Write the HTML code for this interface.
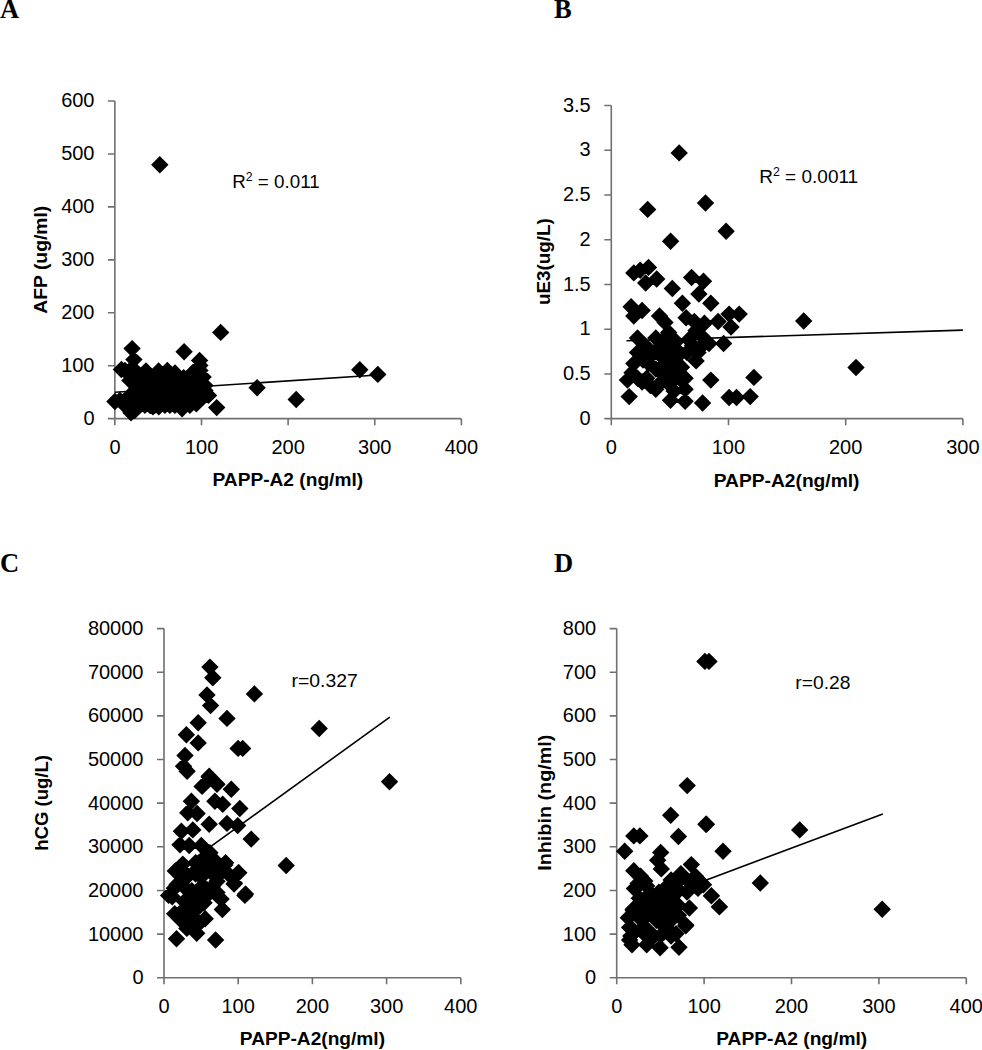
<!DOCTYPE html><html><head><meta charset="utf-8"><style>html,body{margin:0;padding:0;background:#fff;width:982px;height:1050px;overflow:hidden}svg{display:block}text{font-family:"Liberation Sans",sans-serif}</style></head><body>
<svg width="982" height="1050" viewBox="0 0 982 1050">
<rect width="982" height="1050" fill="#fff"/>
<path d="M114.85 101V418.67H461.4M107.85 418.67H114.85M107.85 365.73H114.85M107.85 312.78H114.85M107.85 259.84H114.85M107.85 206.89H114.85M107.85 153.94H114.85M107.85 101.00H114.85M114.85 418.67V425.17M201.49 418.67V425.17M288.12 418.67V425.17M374.76 418.67V425.17M461.40 418.67V425.17" fill="none" stroke="#707070" stroke-width="1.6"/>
<text x="94.5" y="424.9" font-size="20" text-anchor="end">0</text>
<text x="94.5" y="371.9" font-size="20" text-anchor="end">100</text>
<text x="94.5" y="319.0" font-size="20" text-anchor="end">200</text>
<text x="94.5" y="266.1" font-size="20" text-anchor="end">300</text>
<text x="94.5" y="213.1" font-size="20" text-anchor="end">400</text>
<text x="94.5" y="160.1" font-size="20" text-anchor="end">500</text>
<text x="94.5" y="107.2" font-size="20" text-anchor="end">600</text>
<text x="115.0" y="453.7" font-size="20" text-anchor="middle">0</text>
<text x="201.6" y="453.7" font-size="20" text-anchor="middle">100</text>
<text x="288.2" y="453.7" font-size="20" text-anchor="middle">200</text>
<text x="374.8" y="453.7" font-size="20" text-anchor="middle">300</text>
<text x="461.4" y="453.7" font-size="20" text-anchor="middle">400</text>
<path d="M159.8 156.0L168.5 164.7L159.8 173.4L151.1 164.7ZM220.7 323.7L229.4 332.4L220.7 341.1L212.0 332.4ZM359.8 361.1L368.5 369.8L359.8 378.5L351.1 369.8ZM377.8 365.7L386.5 374.4L377.8 383.1L369.1 374.4ZM132.1 339.9L140.8 348.6L132.1 357.3L123.4 348.6ZM133.9 350.9L142.6 359.6L133.9 368.3L125.2 359.6ZM184.1 343.1L192.8 351.8L184.1 360.5L175.4 351.8ZM199.6 351.7L208.3 360.4L199.6 369.1L190.9 360.4ZM216.7 398.9L225.4 407.6L216.7 416.3L208.0 407.6ZM257.1 379.0L265.8 387.7L257.1 396.4L248.4 387.7ZM296.2 390.8L304.9 399.5L296.2 408.2L287.5 399.5ZM121.4 360.8L130.1 369.5L121.4 378.2L112.7 369.5ZM146.0 362.3L154.7 371.0L146.0 379.7L137.3 371.0ZM158.6 362.3L167.3 371.0L158.6 379.7L149.9 371.0ZM167.3 361.8L176.0 370.5L167.3 379.2L158.6 370.5ZM175.0 364.3L183.7 373.0L175.0 381.7L166.3 373.0ZM183.7 368.9L192.4 377.6L183.7 386.3L175.0 377.6ZM199.6 351.7L208.3 360.4L199.6 369.1L190.9 360.4ZM203.1 368.4L211.8 377.1L203.1 385.8L194.4 377.1ZM208.5 386.7L217.2 395.4L208.5 404.1L199.8 395.4ZM196.4 395.1L205.1 403.8L196.4 412.5L187.7 403.8ZM182.1 400.0L190.8 408.7L182.1 417.4L173.4 408.7ZM158.8 398.1L167.5 406.8L158.8 415.5L150.1 406.8ZM153.0 398.1L161.7 406.8L153.0 415.5L144.3 406.8ZM131.0 404.0L139.7 412.7L131.0 421.4L122.3 412.7ZM114.9 392.8L123.6 401.5L114.9 410.2L106.2 401.5ZM135.0 382.3L143.7 391.0L135.0 399.7L126.3 391.0ZM119.9 391.7L128.6 400.4L119.9 409.1L111.2 400.4ZM124.9 361.7L133.6 370.4L124.9 379.1L116.2 370.4ZM124.9 391.7L133.6 400.4L124.9 409.1L116.2 400.4ZM124.9 396.7L133.6 405.4L124.9 414.1L116.2 405.4ZM129.9 361.7L138.6 370.4L129.9 379.1L121.2 370.4ZM129.9 366.7L138.6 375.4L129.9 384.1L121.2 375.4ZM129.9 371.7L138.6 380.4L129.9 389.1L121.2 380.4ZM129.9 386.7L138.6 395.4L129.9 404.1L121.2 395.4ZM129.9 391.7L138.6 400.4L129.9 409.1L121.2 400.4ZM129.9 396.7L138.6 405.4L129.9 414.1L121.2 405.4ZM129.9 401.7L138.6 410.4L129.9 419.1L121.2 410.4ZM134.9 361.7L143.6 370.4L134.9 379.1L126.2 370.4ZM134.9 366.7L143.6 375.4L134.9 384.1L126.2 375.4ZM134.9 371.7L143.6 380.4L134.9 389.1L126.2 380.4ZM134.9 376.7L143.6 385.4L134.9 394.1L126.2 385.4ZM134.9 381.7L143.6 390.4L134.9 399.1L126.2 390.4ZM134.9 386.7L143.6 395.4L134.9 404.1L126.2 395.4ZM134.9 391.7L143.6 400.4L134.9 409.1L126.2 400.4ZM134.9 396.7L143.6 405.4L134.9 414.1L126.2 405.4ZM134.9 401.7L143.6 410.4L134.9 419.1L126.2 410.4ZM139.9 366.7L148.6 375.4L139.9 384.1L131.2 375.4ZM139.9 371.7L148.6 380.4L139.9 389.1L131.2 380.4ZM139.9 376.7L148.6 385.4L139.9 394.1L131.2 385.4ZM139.9 381.7L148.6 390.4L139.9 399.1L131.2 390.4ZM139.9 386.7L148.6 395.4L139.9 404.1L131.2 395.4ZM139.9 391.7L148.6 400.4L139.9 409.1L131.2 400.4ZM139.9 396.7L148.6 405.4L139.9 414.1L131.2 405.4ZM144.9 366.7L153.6 375.4L144.9 384.1L136.2 375.4ZM144.9 371.7L153.6 380.4L144.9 389.1L136.2 380.4ZM144.9 376.7L153.6 385.4L144.9 394.1L136.2 385.4ZM144.9 381.7L153.6 390.4L144.9 399.1L136.2 390.4ZM144.9 386.7L153.6 395.4L144.9 404.1L136.2 395.4ZM144.9 391.7L153.6 400.4L144.9 409.1L136.2 400.4ZM144.9 396.7L153.6 405.4L144.9 414.1L136.2 405.4ZM149.9 366.7L158.6 375.4L149.9 384.1L141.2 375.4ZM149.9 371.7L158.6 380.4L149.9 389.1L141.2 380.4ZM149.9 376.7L158.6 385.4L149.9 394.1L141.2 385.4ZM149.9 381.7L158.6 390.4L149.9 399.1L141.2 390.4ZM149.9 386.7L158.6 395.4L149.9 404.1L141.2 395.4ZM149.9 391.7L158.6 400.4L149.9 409.1L141.2 400.4ZM149.9 396.7L158.6 405.4L149.9 414.1L141.2 405.4ZM154.9 366.7L163.6 375.4L154.9 384.1L146.2 375.4ZM154.9 371.7L163.6 380.4L154.9 389.1L146.2 380.4ZM154.9 376.7L163.6 385.4L154.9 394.1L146.2 385.4ZM154.9 381.7L163.6 390.4L154.9 399.1L146.2 390.4ZM154.9 386.7L163.6 395.4L154.9 404.1L146.2 395.4ZM154.9 391.7L163.6 400.4L154.9 409.1L146.2 400.4ZM154.9 396.7L163.6 405.4L154.9 414.1L146.2 405.4ZM159.9 366.7L168.6 375.4L159.9 384.1L151.2 375.4ZM159.9 371.7L168.6 380.4L159.9 389.1L151.2 380.4ZM159.9 376.7L168.6 385.4L159.9 394.1L151.2 385.4ZM159.9 381.7L168.6 390.4L159.9 399.1L151.2 390.4ZM159.9 386.7L168.6 395.4L159.9 404.1L151.2 395.4ZM159.9 391.7L168.6 400.4L159.9 409.1L151.2 400.4ZM159.9 396.7L168.6 405.4L159.9 414.1L151.2 405.4ZM164.9 366.7L173.6 375.4L164.9 384.1L156.2 375.4ZM164.9 371.7L173.6 380.4L164.9 389.1L156.2 380.4ZM164.9 376.7L173.6 385.4L164.9 394.1L156.2 385.4ZM164.9 381.7L173.6 390.4L164.9 399.1L156.2 390.4ZM164.9 386.7L173.6 395.4L164.9 404.1L156.2 395.4ZM164.9 391.7L173.6 400.4L164.9 409.1L156.2 400.4ZM164.9 396.7L173.6 405.4L164.9 414.1L156.2 405.4ZM169.9 366.7L178.6 375.4L169.9 384.1L161.2 375.4ZM169.9 371.7L178.6 380.4L169.9 389.1L161.2 380.4ZM169.9 376.7L178.6 385.4L169.9 394.1L161.2 385.4ZM169.9 381.7L178.6 390.4L169.9 399.1L161.2 390.4ZM169.9 386.7L178.6 395.4L169.9 404.1L161.2 395.4ZM169.9 391.7L178.6 400.4L169.9 409.1L161.2 400.4ZM169.9 396.7L178.6 405.4L169.9 414.1L161.2 405.4ZM174.9 366.7L183.6 375.4L174.9 384.1L166.2 375.4ZM174.9 371.7L183.6 380.4L174.9 389.1L166.2 380.4ZM174.9 376.7L183.6 385.4L174.9 394.1L166.2 385.4ZM174.9 381.7L183.6 390.4L174.9 399.1L166.2 390.4ZM174.9 386.7L183.6 395.4L174.9 404.1L166.2 395.4ZM174.9 391.7L183.6 400.4L174.9 409.1L166.2 400.4ZM174.9 396.7L183.6 405.4L174.9 414.1L166.2 405.4ZM179.9 371.7L188.6 380.4L179.9 389.1L171.2 380.4ZM179.9 376.7L188.6 385.4L179.9 394.1L171.2 385.4ZM179.9 381.7L188.6 390.4L179.9 399.1L171.2 390.4ZM179.9 386.7L188.6 395.4L179.9 404.1L171.2 395.4ZM179.9 391.7L188.6 400.4L179.9 409.1L171.2 400.4ZM179.9 396.7L188.6 405.4L179.9 414.1L171.2 405.4ZM184.9 371.7L193.6 380.4L184.9 389.1L176.2 380.4ZM184.9 376.7L193.6 385.4L184.9 394.1L176.2 385.4ZM184.9 381.7L193.6 390.4L184.9 399.1L176.2 390.4ZM184.9 386.7L193.6 395.4L184.9 404.1L176.2 395.4ZM184.9 391.7L193.6 400.4L184.9 409.1L176.2 400.4ZM184.9 396.7L193.6 405.4L184.9 414.1L176.2 405.4ZM189.9 366.7L198.6 375.4L189.9 384.1L181.2 375.4ZM189.9 371.7L198.6 380.4L189.9 389.1L181.2 380.4ZM189.9 376.7L198.6 385.4L189.9 394.1L181.2 385.4ZM189.9 381.7L198.6 390.4L189.9 399.1L181.2 390.4ZM189.9 386.7L198.6 395.4L189.9 404.1L181.2 395.4ZM189.9 391.7L198.6 400.4L189.9 409.1L181.2 400.4ZM189.9 396.7L198.6 405.4L189.9 414.1L181.2 405.4ZM194.9 361.7L203.6 370.4L194.9 379.1L186.2 370.4ZM194.9 366.7L203.6 375.4L194.9 384.1L186.2 375.4ZM194.9 371.7L203.6 380.4L194.9 389.1L186.2 380.4ZM194.9 376.7L203.6 385.4L194.9 394.1L186.2 385.4ZM194.9 381.7L203.6 390.4L194.9 399.1L186.2 390.4ZM194.9 386.7L203.6 395.4L194.9 404.1L186.2 395.4ZM194.9 391.7L203.6 400.4L194.9 409.1L186.2 400.4ZM199.9 356.7L208.6 365.4L199.9 374.1L191.2 365.4ZM199.9 361.7L208.6 370.4L199.9 379.1L191.2 370.4ZM199.9 366.7L208.6 375.4L199.9 384.1L191.2 375.4ZM199.9 371.7L208.6 380.4L199.9 389.1L191.2 380.4ZM199.9 376.7L208.6 385.4L199.9 394.1L191.2 385.4ZM199.9 381.7L208.6 390.4L199.9 399.1L191.2 390.4ZM199.9 386.7L208.6 395.4L199.9 404.1L191.2 395.4ZM199.9 391.7L208.6 400.4L199.9 409.1L191.2 400.4ZM204.9 376.7L213.6 385.4L204.9 394.1L196.2 385.4ZM204.9 381.7L213.6 390.4L204.9 399.1L196.2 390.4ZM204.9 386.7L213.6 395.4L204.9 404.1L196.2 395.4Z" fill="#000"/>
<path d="M115 392.2L377.8 375.0" stroke="#000" stroke-width="1.6"/>
<path d="M611.3 105.5V418.67H962.9M604.3 418.67H611.3M604.3 373.93H611.3M604.3 329.19H611.3M604.3 284.45H611.3M604.3 239.72H611.3M604.3 194.98H611.3M604.3 150.24H611.3M604.3 105.50H611.3M611.30 418.67V425.17M728.50 418.67V425.17M845.70 418.67V425.17M962.90 418.67V425.17" fill="none" stroke="#707070" stroke-width="1.6"/>
<text x="590.7" y="424.9" font-size="20" text-anchor="end">0</text>
<text x="590.7" y="380.2" font-size="20" text-anchor="end">0.5</text>
<text x="590.7" y="335.4" font-size="20" text-anchor="end">1</text>
<text x="590.7" y="290.7" font-size="20" text-anchor="end">1.5</text>
<text x="590.7" y="245.9" font-size="20" text-anchor="end">2</text>
<text x="590.7" y="201.2" font-size="20" text-anchor="end">2.5</text>
<text x="590.7" y="156.4" font-size="20" text-anchor="end">3</text>
<text x="590.7" y="111.7" font-size="20" text-anchor="end">3.5</text>
<text x="611.2" y="453.7" font-size="20" text-anchor="middle">0</text>
<text x="728.4" y="453.7" font-size="20" text-anchor="middle">100</text>
<text x="845.7" y="453.7" font-size="20" text-anchor="middle">200</text>
<text x="962.9" y="453.7" font-size="20" text-anchor="middle">300</text>
<path d="M803.7 312.3L812.4 321.0L803.7 329.7L795.0 321.0ZM856.0 358.8L864.7 367.5L856.0 376.2L847.3 367.5ZM679.2 144.2L687.9 152.9L679.2 161.6L670.5 152.9ZM647.7 200.7L656.4 209.4L647.7 218.1L639.0 209.4ZM705.5 194.3L714.2 203.0L705.5 211.7L696.8 203.0ZM726.1 222.6L734.8 231.3L726.1 240.0L717.4 231.3ZM670.6 232.5L679.3 241.2L670.6 249.9L661.9 241.2ZM633.8 264.2L642.5 272.9L633.8 281.6L625.1 272.9ZM640.2 261.5L648.9 270.2L640.2 278.9L631.5 270.2ZM648.5 258.7L657.2 267.4L648.5 276.1L639.8 267.4ZM645.7 274.3L654.4 283.0L645.7 291.7L637.0 283.0ZM656.7 270.3L665.4 279.0L656.7 287.7L648.0 279.0ZM672.3 279.8L681.0 288.5L672.3 297.2L663.6 288.5ZM691.6 268.8L700.3 277.5L691.6 286.2L682.9 277.5ZM703.5 272.5L712.2 281.2L703.5 289.9L694.8 281.2ZM698.9 285.3L707.6 294.0L698.9 302.7L690.2 294.0ZM710.8 294.5L719.5 303.2L710.8 311.9L702.1 303.2ZM682.4 294.5L691.1 303.2L682.4 311.9L673.7 303.2ZM631.1 298.1L639.8 306.8L631.1 315.5L622.4 306.8ZM642.1 301.8L650.8 310.5L642.1 319.2L633.4 310.5ZM633.8 307.3L642.5 316.0L633.8 324.7L625.1 316.0ZM659.5 307.3L668.2 316.0L659.5 324.7L650.8 316.0ZM665.0 313.7L673.7 322.4L665.0 331.1L656.3 322.4ZM686.1 309.1L694.8 317.8L686.1 326.5L677.4 317.8ZM694.3 312.8L703.0 321.5L694.3 330.2L685.6 321.5ZM704.4 314.6L713.1 323.3L704.4 332.0L695.7 323.3ZM718.1 312.8L726.8 321.5L718.1 330.2L709.4 321.5ZM729.1 305.4L737.8 314.1L729.1 322.8L720.4 314.1ZM739.2 305.4L747.9 314.1L739.2 322.8L730.5 314.1ZM731.0 318.3L739.7 327.0L731.0 335.7L722.3 327.0ZM637.5 329.3L646.2 338.0L637.5 346.7L628.8 338.0ZM655.8 329.3L664.5 338.0L655.8 346.7L647.1 338.0ZM668.7 323.8L677.4 332.5L668.7 341.2L660.0 332.5ZM688.8 331.1L697.5 339.8L688.8 348.5L680.1 339.8ZM709.0 334.8L717.7 343.5L709.0 352.2L700.3 343.5ZM723.6 334.8L732.3 343.5L723.6 352.2L714.9 343.5ZM637.5 343.9L646.2 352.6L637.5 361.3L628.8 352.6ZM654.0 343.9L662.7 352.6L654.0 361.3L645.3 352.6ZM670.5 340.3L679.2 349.0L670.5 357.7L661.8 349.0ZM687.0 343.9L695.7 352.6L687.0 361.3L678.3 352.6ZM696.1 352.2L704.8 360.9L696.1 369.6L687.4 360.9ZM633.8 354.9L642.5 363.6L633.8 372.3L625.1 363.6ZM648.5 354.9L657.2 363.6L648.5 372.3L639.8 363.6ZM665.0 354.9L673.7 363.6L665.0 372.3L656.3 363.6ZM681.5 358.6L690.2 367.3L681.5 376.0L672.8 367.3ZM627.4 371.4L636.1 380.1L627.4 388.8L618.7 380.1ZM632.0 364.1L640.7 372.8L632.0 381.5L623.3 372.8ZM642.1 373.3L650.8 382.0L642.1 390.7L633.4 382.0ZM655.8 380.6L664.5 389.3L655.8 398.0L647.1 389.3ZM663.2 365.9L671.9 374.6L663.2 383.3L654.5 374.6ZM668.7 375.1L677.4 383.8L668.7 392.5L660.0 383.8ZM685.1 369.6L693.8 378.3L685.1 387.0L676.4 378.3ZM685.1 380.6L693.8 389.3L685.1 398.0L676.4 389.3ZM710.8 371.4L719.5 380.1L710.8 388.8L702.1 380.1ZM753.9 368.7L762.6 377.4L753.9 386.1L745.2 377.4ZM629.2 387.9L637.9 396.6L629.2 405.3L620.5 396.6ZM670.5 391.6L679.2 400.3L670.5 409.0L661.8 400.3ZM685.1 392.5L693.8 401.2L685.1 409.9L676.4 401.2ZM702.6 394.3L711.3 403.0L702.6 411.7L693.9 403.0ZM729.1 388.8L737.8 397.5L729.1 406.2L720.4 397.5ZM736.5 388.8L745.2 397.5L736.5 406.2L727.8 397.5ZM750.2 387.9L758.9 396.6L750.2 405.3L741.5 396.6ZM646.7 369.6L655.4 378.3L646.7 387.0L638.0 378.3ZM644.8 336.6L653.5 345.3L644.8 354.0L636.1 345.3ZM676.0 349.4L684.7 358.1L676.0 366.8L667.3 358.1ZM663.2 336.6L671.9 345.3L663.2 354.0L654.5 345.3ZM676.0 332.9L684.7 341.6L676.0 350.3L667.3 341.6ZM692.5 336.6L701.2 345.3L692.5 354.0L683.8 345.3ZM701.6 327.4L710.3 336.1L701.6 344.8L692.9 336.1ZM696.1 321.9L704.8 330.6L696.1 339.3L687.4 330.6ZM650.3 343.9L659.0 352.6L650.3 361.3L641.6 352.6ZM661.3 347.6L670.0 356.3L661.3 365.0L652.6 356.3ZM672.3 351.3L681.0 360.0L672.3 368.7L663.6 360.0ZM643.0 351.3L651.7 360.0L643.0 368.7L634.3 360.0ZM655.8 360.4L664.5 369.1L655.8 377.8L647.1 369.1ZM670.5 362.3L679.2 371.0L670.5 379.7L661.8 371.0ZM674.1 382.4L682.8 391.1L674.1 399.8L665.4 391.1ZM650.3 376.9L659.0 385.6L650.3 394.3L641.6 385.6ZM637.5 369.6L646.2 378.3L637.5 387.0L628.8 378.3ZM661.3 373.3L670.0 382.0L661.3 390.7L652.6 382.0ZM679.6 369.6L688.3 378.3L679.6 387.0L670.9 378.3ZM679.6 343.9L688.3 352.6L679.6 361.3L670.9 352.6ZM698.0 343.9L706.7 352.6L698.0 361.3L689.3 352.6ZM665.0 329.3L673.7 338.0L665.0 346.7L656.3 338.0ZM701.6 337.5L710.3 346.2L701.6 354.9L692.9 346.2Z" fill="#000"/>
<path d="M626.5 340.7L962.9 330.1" stroke="#000" stroke-width="1.6"/>
<path d="M164.0 628.6V977.75H460.8M157.0 977.75H164.0M157.0 934.11H164.0M157.0 890.46H164.0M157.0 846.82H164.0M157.0 803.17H164.0M157.0 759.53H164.0M157.0 715.89H164.0M157.0 672.24H164.0M157.0 628.60H164.0M164.00 977.75V984.25M238.20 977.75V984.25M312.40 977.75V984.25M386.60 977.75V984.25M460.80 977.75V984.25" fill="none" stroke="#707070" stroke-width="1.6"/>
<text x="143.5" y="984.2" font-size="20" text-anchor="end">0</text>
<text x="143.5" y="940.5" font-size="20" text-anchor="end">10000</text>
<text x="143.5" y="896.9" font-size="20" text-anchor="end">20000</text>
<text x="143.5" y="853.2" font-size="20" text-anchor="end">30000</text>
<text x="143.5" y="809.5" font-size="20" text-anchor="end">40000</text>
<text x="143.5" y="765.8" font-size="20" text-anchor="end">50000</text>
<text x="143.5" y="722.2" font-size="20" text-anchor="end">60000</text>
<text x="143.5" y="678.5" font-size="20" text-anchor="end">70000</text>
<text x="143.5" y="634.8" font-size="20" text-anchor="end">80000</text>
<text x="164.0" y="1013.0" font-size="20" text-anchor="middle">0</text>
<text x="238.2" y="1013.0" font-size="20" text-anchor="middle">100</text>
<text x="312.4" y="1013.0" font-size="20" text-anchor="middle">200</text>
<text x="386.6" y="1013.0" font-size="20" text-anchor="middle">300</text>
<text x="460.8" y="1013.0" font-size="20" text-anchor="middle">400</text>
<path d="M319.2 719.8L327.9 728.5L319.2 737.2L310.5 728.5ZM389.5 773.0L398.2 781.7L389.5 790.4L380.8 781.7ZM209.9 658.4L218.6 667.1L209.9 675.8L201.2 667.1ZM212.8 669.1L221.5 677.8L212.8 686.5L204.1 677.8ZM207.0 686.2L215.7 694.9L207.0 703.6L198.3 694.9ZM210.6 696.9L219.3 705.6L210.6 714.3L201.9 705.6ZM254.4 685.2L263.1 693.9L254.4 702.6L245.7 693.9ZM227.0 709.7L235.7 718.4L227.0 727.1L218.3 718.4ZM198.2 714.0L206.9 722.7L198.2 731.4L189.5 722.7ZM186.4 726.1L195.1 734.8L186.4 743.5L177.7 734.8ZM198.2 734.2L206.9 742.9L198.2 751.6L189.5 742.9ZM238.1 739.7L246.8 748.4L238.1 757.1L229.4 748.4ZM242.7 739.7L251.4 748.4L242.7 757.1L234.0 748.4ZM185.0 746.8L193.7 755.5L185.0 764.2L176.3 755.5ZM183.5 757.5L192.2 766.2L183.5 774.9L174.8 766.2ZM187.1 762.5L195.8 771.2L187.1 779.9L178.4 771.2ZM209.2 767.5L217.9 776.2L209.2 784.9L200.5 776.2ZM209.2 768.4L217.9 777.1L209.2 785.8L200.5 777.1ZM202.1 777.7L210.8 786.4L202.1 795.1L193.4 786.4ZM217.0 775.5L225.7 784.2L217.0 792.9L208.3 784.2ZM231.3 780.5L240.0 789.2L231.3 797.9L222.6 789.2ZM191.4 792.6L200.1 801.3L191.4 810.0L182.7 801.3ZM214.9 792.6L223.6 801.3L214.9 810.0L206.2 801.3ZM222.7 795.5L231.4 804.2L222.7 812.9L214.0 804.2ZM239.8 799.8L248.5 808.5L239.8 817.2L231.1 808.5ZM187.8 804.1L196.5 812.8L187.8 821.5L179.1 812.8ZM197.1 804.8L205.8 813.5L197.1 822.2L188.4 813.5ZM209.2 815.5L217.9 824.2L209.2 832.9L200.5 824.2ZM227.0 814.7L235.7 823.4L227.0 832.1L218.3 823.4ZM237.7 816.9L246.4 825.6L237.7 834.3L229.0 825.6ZM251.2 830.4L259.9 839.1L251.2 847.8L242.5 839.1ZM181.4 822.6L190.1 831.3L181.4 840.0L172.7 831.3ZM192.8 821.2L201.5 829.9L192.8 838.6L184.1 829.9ZM180.0 836.1L188.7 844.8L180.0 853.5L171.3 844.8ZM189.2 836.8L197.9 845.5L189.2 854.2L180.5 845.5ZM201.3 836.8L210.0 845.5L201.3 854.2L192.6 845.5ZM209.9 844.0L218.6 852.7L209.9 861.4L201.2 852.7ZM286.2 856.8L294.9 865.5L286.2 874.2L277.5 865.5ZM178.5 861.1L187.2 869.8L178.5 878.5L169.8 869.8ZM182.8 855.4L191.5 864.1L182.8 872.8L174.1 864.1ZM195.6 854.0L204.3 862.7L195.6 871.4L186.9 862.7ZM225.6 854.0L234.3 862.7L225.6 871.4L216.9 862.7ZM211.3 863.9L220.0 872.6L211.3 881.3L202.6 872.6ZM238.4 863.9L247.1 872.6L238.4 881.3L229.7 872.6ZM234.1 875.3L242.8 884.0L234.1 892.7L225.4 884.0ZM245.5 885.3L254.2 894.0L245.5 902.7L236.8 894.0ZM185.7 869.6L194.4 878.3L185.7 887.0L177.0 878.3ZM201.3 868.2L210.0 876.9L201.3 885.6L192.6 876.9ZM217.0 872.5L225.7 881.2L217.0 889.9L208.3 881.2ZM174.3 879.6L183.0 888.3L174.3 897.0L165.6 888.3ZM168.6 886.7L177.3 895.4L168.6 904.1L159.9 895.4ZM188.5 882.5L197.2 891.2L188.5 899.9L179.8 891.2ZM217.0 883.9L225.7 892.6L217.0 901.3L208.3 892.6ZM202.8 851.1L211.5 859.8L202.8 868.5L194.1 859.8ZM217.0 854.0L225.7 862.7L217.0 871.4L208.3 862.7ZM202.8 876.8L211.5 885.5L202.8 894.2L194.1 885.5ZM195.6 883.9L204.3 892.6L195.6 901.3L186.9 892.6ZM207.0 861.1L215.7 869.8L207.0 878.5L198.3 869.8ZM219.9 865.4L228.6 874.1L219.9 882.8L211.2 874.1ZM228.4 865.4L237.1 874.1L228.4 882.8L219.7 874.1ZM181.4 872.5L190.1 881.2L181.4 889.9L172.7 881.2ZM195.6 865.4L204.3 874.1L195.6 882.8L186.9 874.1ZM178.5 861.1L187.2 869.8L178.5 878.5L169.8 869.8ZM205.6 888.2L214.3 896.9L205.6 905.6L196.9 896.9ZM176.5 930.1L185.2 938.8L176.5 947.5L167.8 938.8ZM215.6 931.3L224.3 940.0L215.6 948.7L206.9 940.0ZM196.7 924.6L205.4 933.3L196.7 942.0L188.0 933.3ZM186.9 919.7L195.6 928.4L186.9 937.1L178.2 928.4ZM179.6 910.0L188.3 918.7L179.6 927.4L170.9 918.7ZM205.2 910.0L213.9 918.7L205.2 927.4L196.5 918.7ZM199.1 914.8L207.8 923.5L199.1 932.2L190.4 923.5ZM222.3 900.8L231.0 909.5L222.3 918.2L213.6 909.5ZM244.9 886.7L253.6 895.4L244.9 904.1L236.2 895.4ZM234.5 874.5L243.2 883.2L234.5 891.9L225.8 883.2ZM238.8 864.1L247.5 872.8L238.8 881.5L230.1 872.8ZM224.8 856.2L233.5 864.9L224.8 873.6L216.1 864.9ZM211.3 863.5L220.0 872.2L211.3 880.9L202.6 872.2ZM221.1 890.4L229.8 899.1L221.1 907.8L212.4 899.1ZM172.2 888.0L180.9 896.7L172.2 905.4L163.5 896.7ZM175.3 862.3L184.0 871.0L175.3 879.7L166.6 871.0ZM177.1 875.7L185.8 884.4L177.1 893.1L168.4 884.4ZM191.8 881.9L200.5 890.6L191.8 899.3L183.1 890.6ZM204.0 894.1L212.7 902.8L204.0 911.5L195.3 902.8ZM186.9 866.0L195.6 874.7L186.9 883.4L178.2 874.7ZM196.7 861.1L205.4 869.8L196.7 878.5L188.0 869.8ZM196.7 900.2L205.4 908.9L196.7 917.6L188.0 908.9ZM174.7 905.1L183.4 913.8L174.7 922.5L166.0 913.8ZM190.6 910.0L199.3 918.7L190.6 927.4L181.9 918.7ZM212.5 878.2L221.2 886.9L212.5 895.6L203.8 886.9ZM184.4 892.8L193.1 901.5L184.4 910.2L175.7 901.5ZM182.0 902.6L190.7 911.3L182.0 920.0L173.3 911.3ZM191.8 891.6L200.5 900.3L191.8 909.0L183.1 900.3ZM189.3 900.2L198.0 908.9L189.3 917.6L180.6 908.9ZM216.2 885.5L224.9 894.2L216.2 902.9L207.5 894.2Z" fill="#000"/>
<path d="M173.6 873.4L389.8 717.1" stroke="#000" stroke-width="1.6"/>
<path d="M616.7 628.6V977.75H966.3M609.7 977.75H616.7M609.7 934.11H616.7M609.7 890.46H616.7M609.7 846.82H616.7M609.7 803.17H616.7M609.7 759.53H616.7M609.7 715.89H616.7M609.7 672.24H616.7M609.7 628.60H616.7M616.70 977.75V984.25M704.10 977.75V984.25M791.50 977.75V984.25M878.90 977.75V984.25M966.30 977.75V984.25" fill="none" stroke="#707070" stroke-width="1.6"/>
<text x="596.2" y="984.2" font-size="20" text-anchor="end">0</text>
<text x="596.2" y="940.5" font-size="20" text-anchor="end">100</text>
<text x="596.2" y="896.9" font-size="20" text-anchor="end">200</text>
<text x="596.2" y="853.2" font-size="20" text-anchor="end">300</text>
<text x="596.2" y="809.5" font-size="20" text-anchor="end">400</text>
<text x="596.2" y="765.8" font-size="20" text-anchor="end">500</text>
<text x="596.2" y="722.2" font-size="20" text-anchor="end">600</text>
<text x="596.2" y="678.5" font-size="20" text-anchor="end">700</text>
<text x="596.2" y="634.8" font-size="20" text-anchor="end">800</text>
<text x="616.7" y="1013.0" font-size="20" text-anchor="middle">0</text>
<text x="704.1" y="1013.0" font-size="20" text-anchor="middle">100</text>
<text x="791.5" y="1013.0" font-size="20" text-anchor="middle">200</text>
<text x="878.9" y="1013.0" font-size="20" text-anchor="middle">300</text>
<text x="966.3" y="1013.0" font-size="20" text-anchor="middle">400</text>
<path d="M704.9 652.7L713.6 661.4L704.9 670.1L696.2 661.4ZM709.0 652.7L717.7 661.4L709.0 670.1L700.3 661.4ZM687.2 776.9L695.9 785.6L687.2 794.3L678.5 785.6ZM670.7 806.5L679.4 815.2L670.7 823.9L662.0 815.2ZM705.9 815.6L714.6 824.3L705.9 833.0L697.2 824.3ZM799.7 821.2L808.4 829.9L799.7 838.6L791.0 829.9ZM760.3 874.3L769.0 883.0L760.3 891.7L751.6 883.0ZM882.2 900.5L890.9 909.2L882.2 917.9L873.5 909.2ZM633.8 827.2L642.5 835.9L633.8 844.6L625.1 835.9ZM639.9 827.2L648.6 835.9L639.9 844.6L631.2 835.9ZM678.4 827.8L687.1 836.5L678.4 845.2L669.7 836.5ZM706.5 815.6L715.2 824.3L706.5 833.0L697.8 824.3ZM624.7 842.5L633.4 851.2L624.7 859.9L616.0 851.2ZM723.0 842.5L731.7 851.2L723.0 859.9L714.3 851.2ZM660.7 843.7L669.4 852.4L660.7 861.1L652.0 852.4ZM657.7 851.6L666.4 860.3L657.7 869.0L649.0 860.3ZM661.3 860.2L670.0 868.9L661.3 877.6L652.6 868.9ZM633.8 862.0L642.5 870.7L633.8 879.4L625.1 870.7ZM644.8 872.4L653.5 881.1L644.8 889.8L636.1 881.1ZM636.3 879.1L645.0 887.8L636.3 896.5L627.6 887.8ZM691.3 855.9L700.0 864.6L691.3 873.3L682.6 864.6ZM680.9 865.1L689.6 873.8L680.9 882.5L672.2 873.8ZM671.1 871.2L679.8 879.9L671.1 888.6L662.4 879.9ZM703.5 876.1L712.2 884.8L703.5 893.5L694.8 884.8ZM711.4 887.1L720.1 895.8L711.4 904.5L702.7 895.8ZM719.4 898.1L728.1 906.8L719.4 915.5L710.7 906.8ZM689.4 899.3L698.1 908.0L689.4 916.7L680.7 908.0ZM650.3 884.6L659.0 893.3L650.3 902.0L641.6 893.3ZM661.3 884.6L670.0 893.3L661.3 902.0L652.6 893.3ZM676.0 884.6L684.7 893.3L676.0 902.0L667.3 893.3ZM687.0 883.4L695.7 892.1L687.0 900.8L678.3 892.1ZM698.0 879.7L706.7 888.4L698.0 897.1L689.3 888.4ZM633.2 901.7L641.9 910.4L633.2 919.1L624.5 910.4ZM645.4 899.3L654.1 908.0L645.4 916.7L636.7 908.0ZM658.9 899.3L667.6 908.0L658.9 916.7L650.2 908.0ZM672.3 899.3L681.0 908.0L672.3 916.7L663.6 908.0ZM685.8 916.4L694.5 925.1L685.8 933.8L677.1 925.1ZM629.6 918.8L638.3 927.5L629.6 936.2L620.9 927.5ZM641.8 911.5L650.5 920.2L641.8 928.9L633.1 920.2ZM656.4 911.5L665.1 920.2L656.4 928.9L647.7 920.2ZM671.1 911.5L679.8 920.2L671.1 928.9L662.4 920.2ZM630.8 927.4L639.5 936.1L630.8 944.8L622.1 936.1ZM645.4 926.2L654.1 934.9L645.4 943.6L636.7 934.9ZM661.3 926.2L670.0 934.9L661.3 943.6L652.6 934.9ZM676.0 925.0L684.7 933.7L676.0 942.4L667.3 933.7ZM640.6 867.5L649.3 876.2L640.6 884.9L631.9 876.2ZM646.7 877.3L655.4 886.0L646.7 894.7L638.0 886.0ZM638.1 874.8L646.8 883.5L638.1 892.2L629.4 883.5ZM678.4 872.4L687.1 881.1L678.4 889.8L669.7 881.1ZM667.4 877.3L676.1 886.0L667.4 894.7L658.7 886.0ZM685.8 870.0L694.5 878.7L685.8 887.4L677.1 878.7ZM695.5 867.5L704.2 876.2L695.5 884.9L686.8 876.2ZM639.3 889.5L648.0 898.2L639.3 906.9L630.6 898.2ZM652.8 892.0L661.5 900.7L652.8 909.4L644.1 900.7ZM667.4 890.7L676.1 899.4L667.4 908.1L658.7 899.4ZM678.4 896.8L687.1 905.5L678.4 914.2L669.7 905.5ZM650.3 905.4L659.0 914.1L650.3 922.8L641.6 914.1ZM665.0 905.4L673.7 914.1L665.0 922.8L656.3 914.1ZM678.4 906.6L687.1 915.3L678.4 924.0L669.7 915.3ZM663.8 917.6L672.5 926.3L663.8 935.0L655.1 926.3ZM654.0 927.4L662.7 936.1L654.0 944.8L645.3 936.1ZM640.6 921.3L649.3 930.0L640.6 938.7L631.9 930.0ZM671.1 927.4L679.8 936.1L671.1 944.8L662.4 936.1ZM628.3 909.1L637.0 917.8L628.3 926.5L619.6 917.8ZM679.0 938.5L687.7 947.2L679.0 955.9L670.3 947.2ZM660.1 939.1L668.8 947.8L660.1 956.5L651.4 947.8ZM632.0 936.1L640.7 944.8L632.0 953.5L623.3 944.8ZM646.7 936.1L655.4 944.8L646.7 953.5L638.0 944.8ZM685.8 917.1L694.5 925.8L685.8 934.5L677.1 925.8ZM689.4 899.4L698.1 908.1L689.4 916.8L680.7 908.1ZM719.4 898.2L728.1 906.9L719.4 915.6L710.7 906.9ZM711.4 887.2L720.1 895.9L711.4 904.6L702.7 895.9ZM634.4 879.9L643.1 888.6L634.4 897.3L625.7 888.6ZM633.2 900.6L641.9 909.3L633.2 918.0L624.5 909.3ZM630.8 919.0L639.5 927.7L630.8 936.4L622.1 927.7ZM629.6 931.2L638.3 939.9L629.6 948.6L620.9 939.9ZM671.1 923.8L679.8 932.5L671.1 941.2L662.4 932.5ZM646.7 920.2L655.4 928.9L646.7 937.6L638.0 928.9ZM658.9 908.0L667.6 916.7L658.9 925.4L650.2 916.7ZM671.1 895.7L679.8 904.4L671.1 913.1L662.4 904.4ZM646.7 895.7L655.4 904.4L646.7 913.1L638.0 904.4ZM658.9 883.5L667.6 892.2L658.9 900.9L650.2 892.2ZM695.5 877.4L704.2 886.1L695.5 894.8L686.8 886.1ZM678.4 881.1L687.1 889.8L678.4 898.5L669.7 889.8ZM640.6 908.0L649.3 916.7L640.6 925.4L631.9 916.7Z" fill="#000"/>
<path d="M628.0 909.4L882.8 813.9" stroke="#000" stroke-width="1.6"/>
<g font-family="Liberation Serif,serif" font-weight="bold" font-size="26.5">
<text x="0" y="18" style="font-family:'Liberation Serif',serif">A</text>
<text x="554" y="18" style="font-family:'Liberation Serif',serif">B</text>
<text x="0" y="572" style="font-family:'Liberation Serif',serif">C</text>
<text x="554" y="572" style="font-family:'Liberation Serif',serif">D</text>
</g>
<text transform="translate(47.1,259.7) rotate(-90)" x="0" y="0" font-size="18.5" font-weight="bold" text-anchor="middle" textLength="108" lengthAdjust="spacingAndGlyphs">AFP (ug/ml)</text>
<text x="287.8" y="485.9" font-size="18.5" font-weight="bold" text-anchor="middle" textLength="150.6" lengthAdjust="spacingAndGlyphs">PAPP-A2 (ng/ml)</text>
<text transform="translate(550,261.6) rotate(-90)" x="0" y="0" font-size="18.5" font-weight="bold" text-anchor="middle" textLength="86.6" lengthAdjust="spacingAndGlyphs">uE3(ug/L)</text>
<text x="786.6" y="486.6" font-size="18.5" font-weight="bold" text-anchor="middle" textLength="145.8" lengthAdjust="spacingAndGlyphs">PAPP-A2(ng/ml)</text>
<text transform="translate(48.2,802.9) rotate(-90)" x="0" y="0" font-size="18.5" font-weight="bold" text-anchor="middle" textLength="95.9" lengthAdjust="spacingAndGlyphs">hCG (ug/L)</text>
<text x="312.4" y="1044.8" font-size="18.5" font-weight="bold" text-anchor="middle" textLength="145.2" lengthAdjust="spacingAndGlyphs">PAPP-A2(ng/ml)</text>
<text transform="translate(551.2,802.7) rotate(-90)" x="0" y="0" font-size="18.5" font-weight="bold" text-anchor="middle" textLength="136.2" lengthAdjust="spacingAndGlyphs">Inhibin (ng/ml)</text>
<text x="791.7" y="1044.8" font-size="18.5" font-weight="bold" text-anchor="middle" textLength="151" lengthAdjust="spacingAndGlyphs">PAPP-A2 (ng/ml)</text>
<text x="232.3" y="187.8" font-size="18.5" textLength="87.4" lengthAdjust="spacingAndGlyphs">R<tspan font-size="12" dy="-7">2</tspan><tspan dy="7"> = 0.011</tspan></text>
<text x="759.2" y="182.8" font-size="18.5" textLength="99" lengthAdjust="spacingAndGlyphs">R<tspan font-size="12" dy="-7">2</tspan><tspan dy="7"> = 0.0011</tspan></text>
<text x="291.5" y="687.1" font-size="18.5" textLength="66.3" lengthAdjust="spacingAndGlyphs">r=0.327</text>
<text x="795.3" y="689.0" font-size="18.5" textLength="55.1" lengthAdjust="spacingAndGlyphs">r=0.28</text>
</svg></body></html>
